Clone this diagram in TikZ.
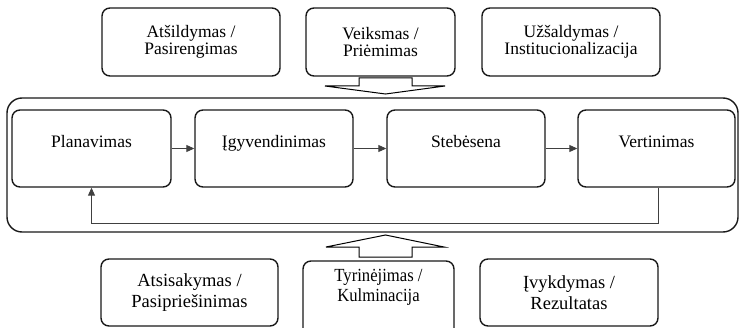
\documentclass[tikz,border=0pt]{standalone}
\usepackage{fontspec}
\setmainfont{Liberation Serif}
\usetikzlibrary{arrows.meta}
\begin{document}
\begin{tikzpicture}[x=1pt,y=1pt,
  box/.style={draw=black!90, line width=1.4pt, rounded corners=8pt, fill=white, align=center, inner sep=0pt},
  stage/.style={box, minimum width=158pt, minimum height=77pt, font=\fontsize{17.5}{17.5}\selectfont, text height=12pt, text depth=13pt},
  phase/.style={box, minimum height=68pt, font=\fontsize{17.5}{17}\selectfont},
  lowphase/.style={box, minimum height=67pt, font=\fontsize{18.5}{21}\selectfont},
  narrowtext/.style={align=center, inner sep=0pt, font=\fontsize{18.5}{20.5}\selectfont},
  frame/.style={draw=black!90, line width=1.4pt, rounded corners=15pt, inner sep=0pt},
  flow/.style={draw=black!75, line width=0.9pt, -{Triangle[length=8pt,width=7pt]}},
  blockarrow/.style={draw=black, line width=1pt, fill=white, line join=miter},
]
\useasboundingbox (0,0) rectangle (739,327);

% top row: phases before the cycle
\node[phase, minimum width=178pt] (t1) at (191,285) {Atšildymas /\\Pasirengimas};
\node[phase, minimum width=149pt] (t2) at (380.5,285) {Veiksmas /\\Priėmimas};
\node[phase, minimum width=178pt] (t3) at (571,285) {Užšaldymas /\\Institucionalizacija};

% frame around the management cycle
\node[frame, minimum width=731pt, minimum height=134pt] (loopframe) at (372.5,162) {};

% cycle stages
\node[stage, minimum width=159pt] (p1) at (91.5,178.5) {Planavimas};
\node[stage] (p2) at (274,178.5) {Įgyvendinimas};
\node[stage] (p3) at (466,178.5) {Stebėsena};
\node[stage, minimum width=157pt] (p4) at (656.5,178.5) {Vertinimas};

\draw[flow] (p1) -- (p2);
\draw[flow] (p2) -- (p3);
\draw[flow] (p3) -- (p4);
\draw[flow] ([xshift=2pt]p4.south) -- ++(0,-36) -| (p1.south);

% block arrows into the frame
\draw[blockarrow, shift={(385.5,233)}]
  (-26.5,16) -- (26.5,16) -- (26.5,8) -- (59.5,8) -- (0,0) -- (-60.5,8) -- (-26.5,8) -- cycle;
\draw[blockarrow, shift={(385.5,92)}]
  (-26.5,-22) -- (26.5,-22) -- (26.5,-12) -- (58.5,-12) -- (0,0) -- (-59.5,-12) -- (-26.5,-12) -- cycle;

% bottom row: phases after the cycle
\node[lowphase, minimum width=177pt] (b1) at (189.5,34.5) {Atsisakymas /\\Pasipriešinimas};
\node[box, minimum width=151pt, minimum height=76pt] (b2) at (378.5,28) {};
\node[narrowtext] (b2text) at (378.5,39.5) {\scalebox{0.9}[1]{Tyrinėjimas /}\\\scalebox{0.9}[1]{Kulminacija}};
\node[lowphase, minimum width=178pt] (b3) at (569,34.5) {Įvykdymas /\\Rezultatas};
\end{tikzpicture}
\end{document}
